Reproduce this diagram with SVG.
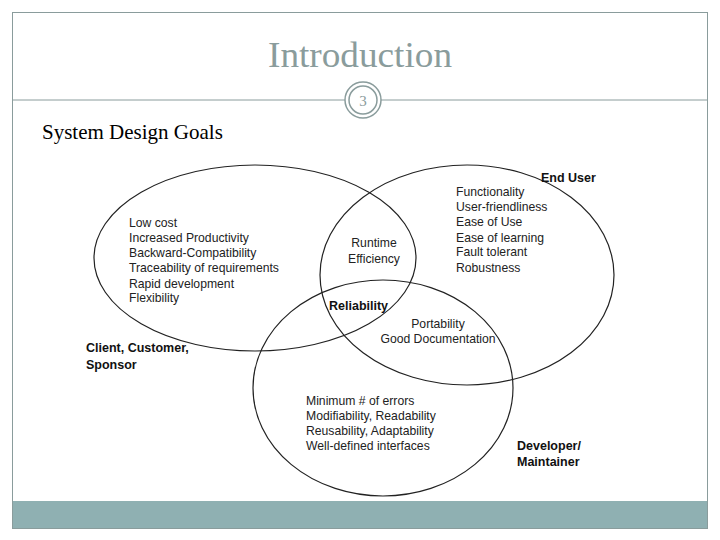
<svg xmlns="http://www.w3.org/2000/svg" width="720" height="540" viewBox="0 0 720 540">
<style>
.e{fill:none;stroke:#222;stroke-width:1.2}
.t{font-family:"Liberation Sans",Arial,sans-serif;font-size:12.2px;fill:#222}
.b{font-family:"Liberation Sans",Arial,sans-serif;font-size:12.5px;font-weight:bold;fill:#111}
</style>
<rect x="0" y="0" width="720" height="540" fill="#fff"/>
<rect x="12.5" y="12.5" width="695" height="516" fill="none" stroke="#8a9c9c"/>
<rect x="13" y="501" width="694" height="27" fill="#8fb0b2"/>
<line x1="12" y1="100" x2="708" y2="100" stroke="#8a9c9c"/>
<text x="360" y="67" text-anchor="middle" font-family="Liberation Serif,serif" font-size="36" fill="#8a9c9c" textLength="184" lengthAdjust="spacingAndGlyphs">Introduction</text>
<g id="pagenum">
<circle cx="363" cy="100" r="18" fill="#fff" stroke="#8a9c9c" stroke-width="1.5"/>
<circle cx="363" cy="100" r="14" fill="none" stroke="#8a9c9c" stroke-width="1.5"/>
<text x="363" y="106" text-anchor="middle" font-family="Liberation Serif,serif" font-size="15" fill="#8a9c9c">3</text>
</g>
<text x="42" y="139" font-family="Liberation Serif,serif" font-size="21" fill="#000">System Design Goals</text>
<g id="client">
<ellipse class="e" cx="255" cy="258" rx="161" ry="93"/>
<text class="t" x="129" y="227">Low cost</text>
<text class="t" x="129" y="242">Increased Productivity</text>
<text class="t" x="129" y="257">Backward-Compatibility</text>
<text class="t" x="129" y="272">Traceability of requirements</text>
<text class="t" x="129" y="288">Rapid development</text>
<text class="t" x="129" y="302">Flexibility</text>
<text class="b" x="86" y="352">Client, Customer,</text>
<text class="b" x="86" y="369">Sponsor</text>
</g>
<g id="enduser">
<ellipse class="e" cx="467" cy="275" rx="147" ry="110"/>
<text class="b" x="541" y="182">End User</text>
<text class="t" x="456" y="196">Functionality</text>
<text class="t" x="456" y="211">User-friendliness</text>
<text class="t" x="456" y="226">Ease of Use</text>
<text class="t" x="456" y="242">Ease of learning</text>
<text class="t" x="456" y="256">Fault tolerant</text>
<text class="t" x="456" y="272">Robustness</text>
</g>
<g id="developer">
<ellipse class="e" cx="383" cy="388" rx="130" ry="108"/>
<text class="t" x="306" y="405">Minimum # of errors</text>
<text class="t" x="306" y="420">Modifiability, Readability</text>
<text class="t" x="306" y="435">Reusability, Adaptability</text>
<text class="t" x="306" y="450">Well-defined interfaces</text>
<text class="b" x="517" y="450">Developer/</text>
<text class="b" x="517" y="466">Maintainer</text>
</g>
<g id="overlaps">
<text class="t" x="374" y="247" text-anchor="middle">Runtime</text>
<text class="t" x="374" y="263" text-anchor="middle">Efficiency</text>
<text class="b" x="329" y="310" font-size="11.5">Reliability</text>
<text class="t" x="438" y="328" text-anchor="middle">Portability</text>
<text class="t" x="438" y="343" text-anchor="middle">Good Documentation</text>
</g>
<g id="connectors"></g>
</svg>
